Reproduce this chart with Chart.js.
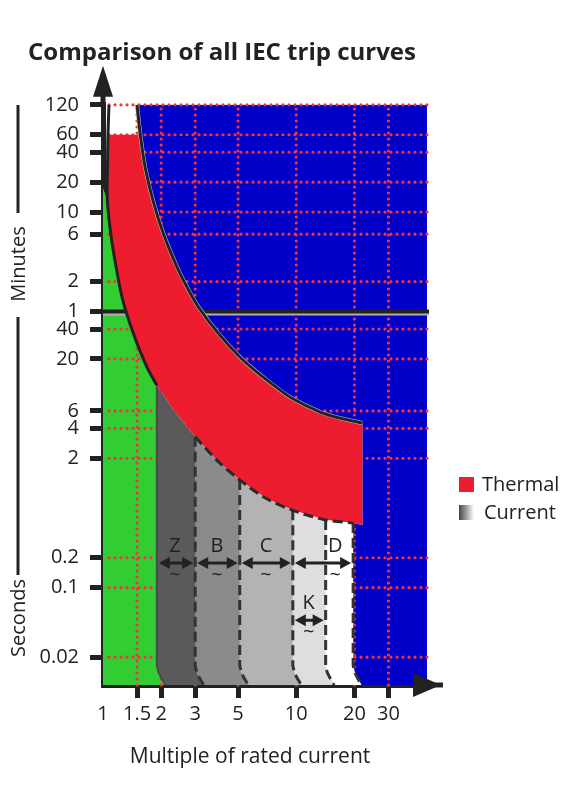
<!DOCTYPE html>
<html lang="en">
<head>
<meta charset="UTF-8" />
<title>Comparison of all IEC trip curves</title>
<style>
  html, body { margin: 0; padding: 0; background: #fff; }
  canvas { display: block; }
</style>
<script src="https://cdn.jsdelivr.net/npm/chart.js@4"></script>
</head>
<body>
<canvas id="tripChart" width="566" height="800"></canvas>
<script>
// axis ranges and ticks (time axis is in seconds)
const xMin = 1, xMax = 47.5, yMin = 0.0105, yMax = 7200;
const xTicks = [1, 1.5, 2, 3, 5, 10, 20, 30];
const yTicks = [7200, 3600, 2400, 1200, 600, 360, 120, 60, 40, 20, 6, 4, 2, 0.2, 0.1, 0.02];
const yTickLabels = ['120', '60', '40', '20', '10', '6', '2', '1', '40', '20', '6', '4', '2', '0.2', '0.1', '0.02'];

// upper edge of the thermal band
const upperX = [1.5, 1.56, 1.65, 1.81, 2.05, 2.41, 2.71, 3.11, 3.95, 5.2, 6.72, 9.28, 13.3, 16.8, 22];
const upperY = [7200, 3600, 1720, 796, 368, 170, 107, 67, 36.2, 20.2, 13.2, 8.27, 5.85, 5.09, 4.53];

// lower edge of the thermal band (top of the current zones)
const lowerX = [1.074, 1.061, 1.055, 1.053, 1.096, 1.168, 1.265, 1.435, 1.683, 1.9, 2.36, 3.0, 3.88, 5.1, 7.0, 9.6, 14.2, 19.7, 22];
const lowerY = [7200, 3600, 1722, 796, 368, 170, 78.4, 36.2, 16.7, 10.9, 5.85, 3.3, 1.92, 1.21, 0.79, 0.6, 0.48, 0.447, 0.426];

// green zone starts on the y axis here
const greenTopX = 1, greenTopY = 1050;

// current (magnetic) zones
const bandNames = ['Z', 'B', 'C', 'K', 'D'];
const bandLeft = [1.9, 3.0, 5.1, 9.6, 14.2];
const bandRight = [3.0, 5.1, 9.6, 14.2, 19.7];
const bandColors = ['#5a5a5a', '#8b8b8b', '#b3b3b3', '#dedede', '#ffffff'];

// range arrows drawn in the zones
const arrowFrom = [1.9, 3.0, 5.1, 9.6, 9.6];
const arrowTo = [3.0, 5.1, 9.6, 14.2, 19.7];
const arrowAt = [0.177, 0.177, 0.177, 0.047, 0.177];
const arrowLabelX = [2.36, 3.89, 6.97, 11.6, 15.9];

// rounded foot of each zone edge
const cornerFx = [1, 1.018, 1.055, 1.106];
const cornerY = [0.0166, 0.0141, 0.0123, 0.0105];

const legendLabels = ['Thermal', 'Current'];

const BLUE = '#0000c8', GREEN = '#32cd32', RED = '#ed1c2e', INK = '#222';

const pt = (x, y) => ({ x, y });
const upperPts = upperX.map((x, i) => pt(x, upperY[i]));
const lowerPts = lowerX.map((x, i) => pt(x, lowerY[i]));

function lowerBetween(x0, x1) {
  const i0 = lowerX.indexOf(x0), i1 = lowerX.indexOf(x1);
  return lowerPts.slice(i0, i1 + 1);
}
function edgeDown(x) {
  return cornerFx.map((f, k) => pt(x * f, cornerY[k]));
}
function edgeLine(x) {
  return [pt(x, lowerY[lowerX.indexOf(x)])].concat(edgeDown(x));
}

function poly(label, data, color, order) {
  return { label, data, fill: 'shape', backgroundColor: color, borderColor: 'rgba(0,0,0,0)',
    borderWidth: 0, order, pointRadius: 0, tension: 0 };
}
function stroke(label, data, color, width, dash, order, tension) {
  return { label, data, fill: false, borderColor: color, borderWidth: width, borderDash: dash || [],
    order, pointRadius: 0, borderCapStyle: 'butt', tension: tension || 0 };
}

const datasets = [];
// background zones (under the grid)
datasets.push(poly('blue', upperPts.concat(lowerBetween(19.7, 22).reverse(), edgeDown(19.7),
  [pt(xMax, yMin), pt(xMax, yMax)]), BLUE, 20));
datasets.push(poly('green', [pt(greenTopX, greenTopY)].concat(lowerBetween(1.053, 1.9), edgeDown(1.9),
  [pt(xMin, yMin)]), GREEN, 19));
// thermal band
datasets.push(poly('Thermal', upperPts.slice(1).concat(lowerPts.slice(1).reverse()), RED, 12));
// current zones
bandNames.forEach((n, i) => {
  datasets.push(poly(n, lowerBetween(bandLeft[i], bandRight[i]).concat(edgeDown(bandRight[i]),
    edgeDown(bandLeft[i]).reverse()), bandColors[i], 11));
});
// outlines
datasets.push(stroke('upperHalo', upperPts, '#c4c4c4', 4, null, 3, 0.3));
datasets.push(stroke('upper', upperPts, INK, 3, null, 1, 0.3));
datasets.push(stroke('lower', lowerBetween(1.074, 1.9), INK, 3, null, 1, 0.3));
datasets.push(stroke('zEdge', edgeLine(1.9), '#4a4a4a', 2, null, 2));
datasets.push(stroke('lowerDash', lowerBetween(3.0, 19.7), '#2a2a2a', 3, [10, 5], 2, 0.3));
[3.0, 5.1, 9.6, 14.2, 19.7].forEach(x => {
  datasets.push(stroke('edge' + x, edgeLine(x), '#333', 3, [10, 5], 2));
});

function seg(ctx, x0, y0, x1, y1) {
  ctx.beginPath(); ctx.moveTo(x0, y0); ctx.lineTo(x1, y1); ctx.stroke();
}
function tri(ctx, a, b, c) {
  ctx.beginPath(); ctx.moveTo(a[0], a[1]); ctx.lineTo(b[0], b[1]); ctx.lineTo(c[0], c[1]); ctx.closePath(); ctx.fill();
}

const decor = {
  id: 'decor',
  afterDatasetDraw(chart, args) {
    if (chart.data.datasets[args.index].label !== 'green') return;
    // dotted grid, above the blue/green zones and under the rest
    const { ctx, chartArea: a, scales: { x, y } } = chart;
    ctx.save();
    ctx.strokeStyle = '#f23341';
    ctx.lineWidth = 3.2;
    ctx.lineCap = 'round';
    ctx.setLineDash([0, 6]);
    yTicks.forEach(v => {
      if (v === 60) return;
      const py = y.getPixelForValue(v);
      seg(ctx, a.left + 6, py, a.right + 3, py);
    });
    xTicks.forEach(v => {
      if (v === 1) return;
      const px = x.getPixelForValue(v);
      seg(ctx, px, a.bottom, px, a.top);
    });
    ctx.setLineDash([]);
    ctx.lineCap = 'butt';
    const y60 = y.getPixelForValue(60);
    ctx.strokeStyle = '#b0b0b0';
    ctx.lineWidth = 4;
    seg(ctx, a.left, y60 + 2, a.right + 2, y60 + 2);
    ctx.strokeStyle = INK;
    ctx.lineWidth = 4;
    seg(ctx, a.left, y60, a.right + 2, y60);
    ctx.restore();
  },
  afterDraw(chart) {
    const { ctx, chartArea: a, scales: { x, y } } = chart;
    ctx.save();
    ctx.fillStyle = INK;
    ctx.strokeStyle = INK;
    // axis arrows
    ctx.lineWidth = 5;
    seg(ctx, a.left, a.top + 2, a.left, a.top - 12);
    tri(ctx, [a.left, a.top - 39], [a.left - 10, a.top - 8], [a.left + 10, a.top - 8]);
    seg(ctx, a.right - 2, a.bottom, a.right + 16, a.bottom);
    tri(ctx, [a.right + 14, a.bottom], [a.right - 14, a.bottom - 12], [a.right - 14, a.bottom + 12]);

    // range arrows with zone letters
    ctx.font = "20px 'Open Sans'";
    ctx.textAlign = 'center';
    ctx.textBaseline = 'middle';
    ctx.lineWidth = 3;
    bandNames.forEach((n, i) => {
      const x0 = x.getPixelForValue(arrowFrom[i]) + 2;
      const x1 = x.getPixelForValue(arrowTo[i]) - 2;
      const py = y.getPixelForValue(arrowAt[i]);
      seg(ctx, x0 + 6, py, x1 - 6, py);
      tri(ctx, [x0, py], [x0 + 11, py - 6], [x0 + 11, py + 6]);
      tri(ctx, [x1, py], [x1 - 11, py - 6], [x1 - 11, py + 6]);
      const lx = x.getPixelForValue(arrowLabelX[i]);
      ctx.fillText(n, lx, py - 17);
      ctx.fillText('~', lx, py + 12);
    });

    // Minutes / Seconds brackets
    ctx.lineWidth = 3;
    seg(ctx, 18, 105, 18, 213);
    seg(ctx, 18, 317, 18, 575);
    ctx.font = "20px 'Open Sans'";
    [['Minutes', 264], ['Seconds', 618]].forEach(([t, cy]) => {
      ctx.save();
      ctx.translate(19, cy);
      ctx.rotate(-Math.PI / 2);
      ctx.fillText(t, 0, 0);
      ctx.restore();
    });

    // x axis title
    ctx.font = "21px 'Open Sans'";
    ctx.fillText('Multiple of rated current', 250, 757);

    // legend
    ctx.font = "20px 'Open Sans'";
    ctx.fillStyle = RED;
    ctx.fillRect(459, 477, 15, 15);
    const g = ctx.createLinearGradient(459, 0, 474, 0);
    g.addColorStop(0, '#444');
    g.addColorStop(1, '#fff');
    ctx.fillStyle = g;
    ctx.fillRect(459, 505, 15, 15);
    ctx.fillStyle = INK;
    ctx.textAlign = 'left';
    ctx.fillText(legendLabels[0], 482, 485);
    ctx.fillText(legendLabels[1], 484, 513);
    ctx.restore();
  }
};

Chart.defaults.font.family = "'Open Sans', sans-serif";
Chart.defaults.color = INK;

new Chart(document.getElementById('tripChart'), {
  type: 'line',
  data: { datasets },
  options: {
    responsive: false,
    animation: false,
    layout: { padding: { left: 28, right: 139, top: 0, bottom: 0 } },
    elements: { point: { radius: 0 } },
    plugins: {
      legend: { display: false },
      tooltip: { enabled: false },
      title: {
        display: true,
        text: 'Comparison of all IEC trip curves',
        align: 'start',
        color: INK,
        font: { size: 24, weight: 'bold' },
        padding: { top: 39, bottom: 37 }
      }
    },
    scales: {
      x: {
        type: 'logarithmic',
        min: xMin,
        max: xMax,
        afterFit: s => { s.height = 115; },
        afterBuildTicks: s => { s.ticks = xTicks.map(v => ({ value: v })); },
        ticks: {
          autoSkip: false,
          maxRotation: 0,
          padding: 4,
          font: { size: 20 },
          color: INK,
          callback: v => String(v)
        },
        grid: {
          drawOnChartArea: false,
          tickLength: 13,
          tickWidth: 5,
          tickColor: c => (c.tick && c.tick.value === 1 ? 'rgba(0,0,0,0)' : INK)
        },
        border: { display: true, color: INK, width: 5 }
      },
      y: {
        type: 'logarithmic',
        min: yMin,
        max: yMax,
        afterFit: s => { s.width = 75; },
        afterBuildTicks: s => { s.ticks = yTicks.map(v => ({ value: v })); },
        ticks: {
          autoSkip: false,
          padding: 11,
          font: { size: 20 },
          color: INK,
          callback: v => yTickLabels[yTicks.indexOf(v)]
        },
        grid: {
          drawOnChartArea: false,
          tickLength: 13,
          tickWidth: 5,
          tickColor: INK
        },
        border: { display: true, color: INK, width: 5 }
      }
    }
  },
  plugins: [decor]
});
</script>
</body>
</html>
